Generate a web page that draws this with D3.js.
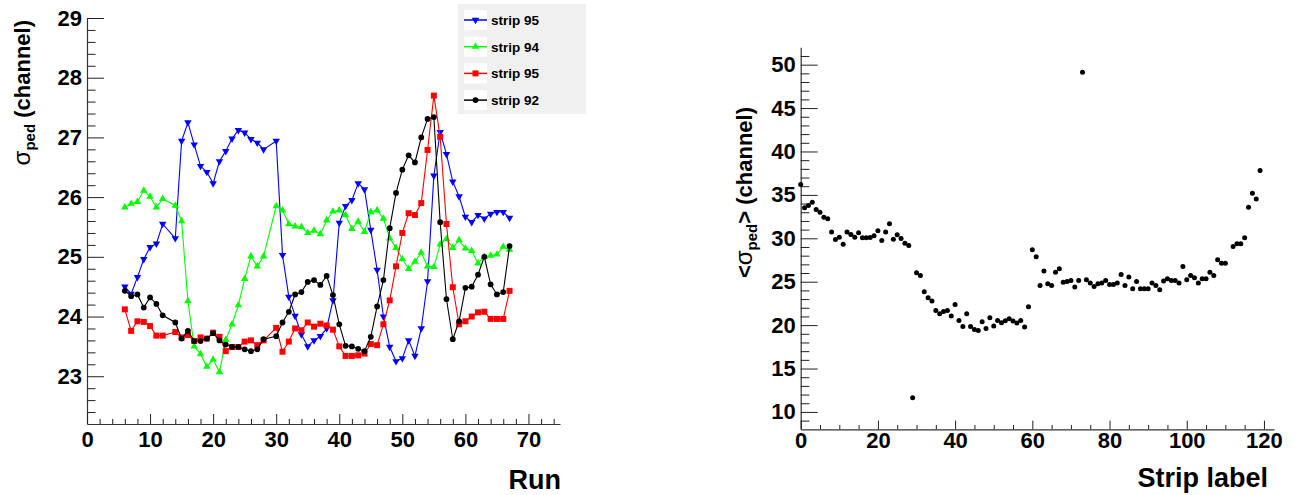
<!DOCTYPE html>
<html><head><meta charset="utf-8">
<script src="https://cdn.jsdelivr.net/npm/d3@7"></script>
<style>body{margin:0;background:#fff} text{font-family:"Liberation Sans",Arial,Helvetica,sans-serif;}</style>
</head><body><svg id="c" width="1295" height="495"></svg>
<script>
// ---------------- data ----------------
const runs = [6,7,8,9,10,11,12,14,15,16,17,18,19,20,21,22,23,24,25,26,27,28,30,31,32,33,34,35,36,37,38,39,40,41,42,43,44,45,46,47,48,49,50,51,52,53,54,55,56,57,58,59,60,61,62,63,64,65,66,67];
const strip95Blue = [24.50,24.38,24.66,24.96,25.16,25.22,25.55,25.31,26.94,27.25,26.88,26.52,26.42,26.23,26.60,26.77,26.98,27.12,27.08,26.97,26.91,26.80,26.94,25.03,24.33,24.01,23.70,23.50,23.60,23.67,23.80,24.27,25.57,25.85,25.95,26.23,26.13,25.45,24.78,24.00,23.49,23.25,23.30,23.60,23.34,23.80,24.59,26.36,27.09,26.72,26.26,26.01,25.67,25.58,25.70,25.64,25.72,25.75,25.75,25.65];
const strip94Green = [25.83,25.89,25.92,26.11,26.01,25.83,25.97,25.86,25.60,24.26,23.50,23.37,23.16,23.28,23.07,23.61,23.87,24.19,24.63,25.01,24.84,25.01,25.85,25.78,25.55,25.51,25.50,25.40,25.44,25.38,25.61,25.76,25.78,25.70,25.47,25.59,25.42,25.75,25.78,25.64,25.31,25.15,24.96,24.80,24.92,25.07,24.84,24.83,25.21,25.30,25.15,25.28,25.14,25.10,24.89,25.00,25.02,25.04,25.17,25.12];
const strip95Red = [24.12,23.76,23.92,23.91,23.84,23.68,23.68,23.74,23.65,23.69,23.59,23.65,23.63,23.73,23.66,23.42,23.49,23.49,23.58,23.60,23.52,23.60,23.81,23.41,23.58,23.80,23.77,23.90,23.83,23.88,23.85,23.78,23.50,23.34,23.34,23.35,23.38,23.54,23.52,23.87,24.27,24.84,25.40,25.73,25.70,25.90,26.79,27.70,27.01,25.55,24.49,23.87,23.92,24.00,24.07,24.08,23.96,23.96,23.96,24.43];
const strip92Black = [24.43,24.34,24.37,24.15,24.32,24.21,24.02,23.90,23.63,23.76,23.59,23.59,23.63,23.72,23.60,23.53,23.49,23.49,23.45,23.42,23.45,23.62,23.67,23.90,24.08,24.37,24.41,24.58,24.61,24.53,24.68,24.36,23.87,23.51,23.50,23.46,23.42,23.66,24.17,24.61,25.48,26.07,26.46,26.70,26.58,27.00,27.31,27.34,25.58,24.29,23.62,23.92,24.48,24.50,24.70,25.00,24.54,24.37,24.41,25.18];
const legendLabels = ["strip 95","strip 94","strip 95","strip 92"];

const strips = [0,1,2,3,4,5,6,7,8,9,10,11,12,13,14,15,16,17,18,19,20,21,22,23,24,25,26,27,28,29,30,31,32,33,34,35,36,37,38,39,40,41,42,43,44,45,46,47,48,49,50,51,52,53,54,55,56,57,58,59,60,61,62,63,64,65,66,67,68,69,70,71,72,73,74,75,76,77,78,79,80,81,82,83,84,85,86,87,88,89,90,91,92,93,94,95,96,97,98,99,100,101,102,103,104,105,106,107,108,109,110,112,113,114,115,116,117,118,119];
const stripMeanSigma = [36.19,33.51,33.78,34.16,33.31,33.0,32.43,32.24,30.74,29.86,30.13,29.32,30.74,30.44,30.13,30.63,30.05,30.05,30.09,30.29,30.86,29.75,30.74,31.67,29.9,30.4,29.98,29.44,29.17,11.64,26.03,25.72,23.84,23.15,22.77,21.69,21.31,21.58,21.69,21.04,22.38,20.54,19.85,21.31,19.85,19.5,19.39,20.39,19.62,20.85,19.89,20.54,20.27,20.5,20.73,20.46,20.23,20.54,19.77,22.11,28.67,27.87,24.57,26.22,24.76,24.57,26.1,26.49,24.95,25.03,25.14,24.38,25.14,49.12,25.22,24.84,24.45,24.76,24.84,25.14,24.68,24.68,24.84,25.83,24.57,25.53,24.19,25.03,24.19,24.19,24.19,24.84,24.57,24.07,25.07,25.34,25.14,25.14,24.84,26.75,25.22,25.72,25.45,24.84,25.34,25.34,26.1,25.72,27.53,27.14,27.14,29.06,29.37,29.37,30.06,33.58,35.19,34.54,37.8];

const leftYMajor = [23,24,25,26,27,28,29];
const leftXMajor = [0,10,20,30,40,50,60,70];
const rightYMajor = [10,15,20,25,30,35,40,45,50];
const rightXMajor = [0,20,40,60,80,100,120];

// ---------------- drawing ----------------
const svg = d3.select('#c');
const FONT = '"Liberation Sans",Arial,Helvetica,sans-serif';

const xL = d3.scaleLinear([0,75],[87,560]);
const yL = d3.scaleLinear([22.2,29],[424,18]);
const xR = d3.scaleLinear([0,122.6],[800.7,1274]);
const yR = d3.scaleLinear([8,52],[429.3,47.3]);

function range(a,b,s){const r=[];for(let v=a;v<=b+1e-9;v+=s)r.push(+v.toFixed(4));return r;}
function minorsOf(a,b,s,majors){return range(a,b,s).filter(v=>!majors.some(m=>Math.abs(m-v)<1e-6));}

function styleAxis(g){
  g.attr('font-family',FONT).attr('font-size',22).attr('font-weight','bold');
  g.selectAll('.domain').attr('stroke','#333').attr('stroke-width',1.2);
  g.selectAll('.tick line').attr('stroke','#222').attr('stroke-width',1);
  g.selectAll('.tick text').attr('fill','#000');
}

function drawYAxis(x, scale, majors, minors, majLen, minLen){
  const g = svg.append('g').attr('transform',`translate(${x},0)`);
  g.call(d3.axisLeft(scale).tickValues(majors).tickSizeInner(-majLen).tickSizeOuter(0).tickPadding(5).tickFormat(d3.format('d')));
  styleAxis(g);
  const m = svg.append('g').attr('transform',`translate(${x},0)`);
  m.call(d3.axisLeft(scale).tickValues(minors).tickSizeInner(-minLen).tickSizeOuter(0).tickFormat(''));
  m.select('.domain').remove();
  styleAxis(m);
}
function drawXAxis(y, scale, majors, minors, majLen, minLen, pad){
  const g = svg.append('g').attr('transform',`translate(0,${y})`);
  g.call(d3.axisBottom(scale).tickValues(majors).tickSizeInner(-majLen).tickSizeOuter(0).tickPadding(pad).tickFormat(d3.format('d')));
  styleAxis(g);
  const m = svg.append('g').attr('transform',`translate(0,${y})`);
  m.call(d3.axisBottom(scale).tickValues(minors).tickSizeInner(-minLen).tickSizeOuter(0).tickFormat(''));
  m.select('.domain').remove();
  styleAxis(m);
}

// Left panel axes
drawYAxis(87, yL, leftYMajor, minorsOf(22.4,28.8,0.2,leftYMajor), 17, 8.5);
drawXAxis(424, xL, leftXMajor, minorsOf(2,74,2,leftXMajor), 10, 5, 7);
// Right panel axes
drawYAxis(800.7, yR, rightYMajor, minorsOf(9,51,1,rightYMajor), 17, 8.7);
drawXAxis(429.3, xR, rightXMajor, minorsOf(5,120,5,rightXMajor), 8.7, 4.3, 3);

// series
const series = [
  {vals:strip95Blue, color:'#0000ff', sym:'tdown', label:legendLabels[0]},
  {vals:strip94Green, color:'#00ff00', sym:'tup', label:legendLabels[1]},
  {vals:strip95Red, color:'#ff0000', sym:'square', label:legendLabels[2]},
  {vals:strip92Black, color:'#000000', sym:'circle', label:legendLabels[3]},
];
const symGen = {
  tdown: d3.symbol(d3.symbolTriangle, 24),
  tup: d3.symbol(d3.symbolTriangle, 24),
  square: d3.symbol(d3.symbolSquare, 36),
  circle: d3.symbol(d3.symbolCircle, 26),
};
function placeSym(sel, s, x, y){
  sel.append('path').attr('d', symGen[s]())
    .attr('transform', `translate(${x},${y})` + (s==='tdown'?' rotate(180)':''));
}
const line = d3.line().x(d=>xL(d[0])).y(d=>yL(d[1]));
series.forEach(s=>{
  const pts = runs.map((r,i)=>[r,s.vals[i]]).filter(d=>d[1]!=null);
  const g = svg.append('g');
  g.append('path').attr('d',line(pts)).attr('fill','none').attr('stroke',s.color).attr('stroke-width',1.1);
  const mg = g.append('g').attr('fill',s.color);
  pts.forEach(p=>placeSym(mg, s.sym, xL(p[0]), yL(p[1])));
});

// legend
const lg = svg.append('g');
lg.append('rect').attr('x',458).attr('y',4).attr('width',128).attr('height',110).attr('fill','#f0f0f0');
series.forEach((s,i)=>{
  const cy = 20 + i*26.7;
  lg.append('rect').attr('x',464).attr('y',cy-10).attr('width',23).attr('height',20).attr('fill','#fff');
  lg.append('line').attr('x1',464).attr('x2',487).attr('y1',cy).attr('y2',cy).attr('stroke',s.color).attr('stroke-width',1.5);
  const mg = lg.append('g').attr('fill',s.color);
  placeSym(mg, s.sym, 475.5, cy);
  lg.append('text').attr('x',491).attr('y',cy+5).attr('font-size',13.5).attr('font-weight','bold').attr('fill','#000').text(s.label);
});

// right scatter
const rg = svg.append('g').attr('fill','#000');
strips.forEach((s,i)=>{
  rg.append('circle').attr('cx',xR(s)).attr('cy',yR(stripMeanSigma[i])).attr('r',2.5);
});

// titles
function yTitle(x, yEnd, brackets){
  const t = svg.append('text').attr('transform',`translate(${x},${yEnd}) rotate(-90)`)
    .attr('text-anchor','end').attr('fill','#000').attr('font-weight','bold').attr('font-size',22);
  if (brackets) t.append('tspan').text('<');
  t.append('tspan').attr('font-weight','normal').attr('font-size',24).text('σ');
  t.append('tspan').attr('font-size',15).attr('dy',5).text('ped');
  if (brackets) { t.append('tspan').attr('dy',-5).text('>'); t.append('tspan').text(' (channel)'); }
  else t.append('tspan').attr('dy',-5).text(' (channel)');
}
yTitle(30, 20, false);
yTitle(752, 107, true);

svg.append('text').attr('x',561).attr('y',489).attr('text-anchor','end').attr('font-size',27).attr('font-weight','bold').attr('fill','#000').text('Run');
svg.append('text').attr('x',1268).attr('y',487).attr('text-anchor','end').attr('font-size',27).attr('font-weight','bold').attr('fill','#000').text('Strip label');
</script>
</body></html>
